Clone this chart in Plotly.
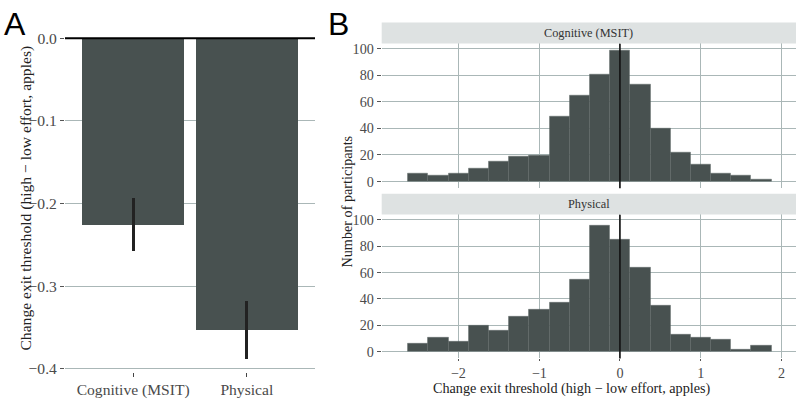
import plotly.graph_objects as go

# ---------------- data ----------------
conditions = ["Cognitive (MSIT)", "Physical"]
mean_change = [-0.225, -0.353]
se_change = [0.032, 0.035]

bin_centers = [-2.5, -2.25, -2.0, -1.75, -1.5, -1.25, -1.0, -0.75, -0.5, -0.25,
               0.0, 0.25, 0.5, 0.75, 1.0, 1.25, 1.5, 1.75]
counts_cognitive = [6, 5, 6, 10, 15, 19, 20, 49, 65, 81, 99, 73, 40, 22, 13, 6, 5, 2]
counts_physical = [6, 11, 8, 20, 16, 27, 32, 37, 55, 96, 85, 64, 35, 13, 11, 9, 2, 5]
bin_width = 0.25

a_yticks = [0.0, -0.1, -0.2, -0.3, -0.4]
b_xticks = [-2, -1, 0, 1, 2]
b_yticks = [0, 20, 40, 60, 80, 100]

# ---------------- style ----------------
W, H = 802, 403
BAR = "#485150"
GRID = "#aab7b7"
STRIP = "#dee2e2"
TXT = "#4a4a4a"
SERIF = "Liberation Serif, Times New Roman, serif"
SANS = "Liberation Sans, Arial, sans-serif"


def fx(px):
    return px / W


def fy(py):
    return 1 - py / H


fig = go.Figure()

# Panel A bars
fig.add_trace(go.Bar(
    x=conditions, y=mean_change, width=0.9,
    marker=dict(color=BAR, line=dict(width=0)),
    error_y=dict(type="data", array=se_change, symmetric=True,
                 color="#222222", thickness=2.8, width=0),
    xaxis="x", yaxis="y", hoverinfo="skip",
))

# Panel B histograms
fig.add_trace(go.Bar(
    x=bin_centers, y=counts_cognitive, width=bin_width,
    marker=dict(color=BAR, line=dict(width=0.4, color="#5a6463")),
    xaxis="x2", yaxis="y2", hoverinfo="skip",
))
fig.add_trace(go.Bar(
    x=bin_centers, y=counts_physical, width=bin_width,
    marker=dict(color=BAR, line=dict(width=0.4, color="#5a6463")),
    xaxis="x3", yaxis="y3", hoverinfo="skip",
))

# Domains (pixels)
A_X = (65, 315)
A_Y = (20, 377)
B_X = (381.7, 796)
B1_Y = (41.3, 189.4)
B2_Y = (216.3, 363.5)
S1 = (20, 41.3)
S2 = (195, 216.3)

tickA = dict(family=SERIF, size=15.6, color=TXT)
tickB = dict(family=SERIF, size=14.2, color=TXT)

fig.update_layout(
    width=W, height=H,
    margin=dict(l=0, r=0, t=0, b=0),
    paper_bgcolor="white", plot_bgcolor="white",
    showlegend=False, bargap=0,
    xaxis=dict(domain=[fx(A_X[0]), fx(A_X[1])], range=[-0.6, 1.6],
               showgrid=False, zeroline=False, showline=False,
               ticks="outside", ticklen=4, tickcolor="#444", tickwidth=1,
               tickfont=tickA),
    yaxis=dict(domain=[fy(A_Y[1]), fy(A_Y[0])], range=[-0.4035, 0.019],
               tickvals=a_yticks, tickformat=".1f",
               showgrid=True, gridcolor=GRID, gridwidth=1.2, zeroline=False,
               ticks="outside", ticklen=4, tickcolor="#555", tickwidth=1,
               tickfont=tickA),
    xaxis2=dict(domain=[fx(B_X[0]), fx(B_X[1])], range=[-2.95, 2.18],
                tickvals=b_xticks, showticklabels=False,
                showgrid=True, gridcolor=GRID, gridwidth=1.2, zeroline=False,
                ticks="", anchor="y2"),
    yaxis2=dict(domain=[fy(B1_Y[1]), fy(B1_Y[0])], range=[-4.95, 103.95],
                tickvals=b_yticks, showgrid=True, gridcolor=GRID, gridwidth=1.2,
                zeroline=False, ticks="outside", ticklen=4, tickcolor="#555",
                tickfont=tickB, anchor="x2"),
    xaxis3=dict(domain=[fx(B_X[0]), fx(B_X[1])], range=[-2.95, 2.18],
                tickvals=b_xticks, showgrid=True, gridcolor=GRID, gridwidth=1.2,
                zeroline=False, ticks="outside", ticklen=2, tickcolor="#555",
                tickfont=tickB, anchor="y3"),
    yaxis3=dict(domain=[fy(B2_Y[1]), fy(B2_Y[0])], range=[-4.95, 103.95],
                tickvals=b_yticks, showgrid=True, gridcolor=GRID, gridwidth=1.2,
                zeroline=False, ticks="outside", ticklen=4, tickcolor="#555",
                tickfont=tickB, anchor="x3"),
)

shapes = [
    # zero line panel A
    dict(type="line", xref="x domain", yref="y", x0=0, x1=1, y0=0, y1=0,
         line=dict(color="black", width=2), layer="above"),
    # vertical zero lines panel B
    dict(type="line", xref="x2", yref="y2 domain", x0=0, x1=0, y0=0, y1=1,
         line=dict(color="#111", width=1.6), layer="above"),
    dict(type="line", xref="x3", yref="y3 domain", x0=0, x1=0, y0=0, y1=1,
         line=dict(color="#111", width=1.6), layer="above"),
    # strips
    dict(type="rect", xref="paper", yref="paper",
         x0=fx(B_X[0]), x1=fx(B_X[1]), y0=fy(S1[1]), y1=fy(S1[0]),
         fillcolor=STRIP, line=dict(width=0)),
    dict(type="rect", xref="paper", yref="paper",
         x0=fx(B_X[0]), x1=fx(B_X[1]), y0=fy(S2[1]), y1=fy(S2[0]),
         fillcolor=STRIP, line=dict(width=0)),
]
fig.update_layout(shapes=shapes)


def ann(text, px, py, font, angle=0):
    return dict(text=text, x=fx(px), y=fy(py), xref="paper", yref="paper",
                xanchor="center", yanchor="middle", showarrow=False,
                textangle=angle, font=font)


annotations = [
    ann("Cognitive (MSIT)", (B_X[0] + B_X[1]) / 2, (S1[0] + S1[1]) / 2,
        dict(family=SERIF, size=12.3, color="#333")),
    ann("Physical", (B_X[0] + B_X[1]) / 2, (S2[0] + S2[1]) / 2,
        dict(family=SERIF, size=12.3, color="#333")),
    ann("Change exit threshold (high − low effort, apples)", 26, 200,
        dict(family=SERIF, size=15.6, color="#222"), -90),
    ann("Number of participants", 347, 203,
        dict(family=SERIF, size=14.2, color="#222"), -90),
    ann("Change exit threshold (high − low effort, apples)", 572, 394.5,
        dict(family=SERIF, size=14.2, color="#222")),
    ann("A", 15, 21, dict(family=SANS, size=32, color="black")),
    ann("B", 338, 21, dict(family=SANS, size=32, color="black")),
]
fig.update_layout(annotations=annotations)

fig.write_html("out.html", config={"displayModeBar": False},
               post_script="document.body.style.margin='0';")
